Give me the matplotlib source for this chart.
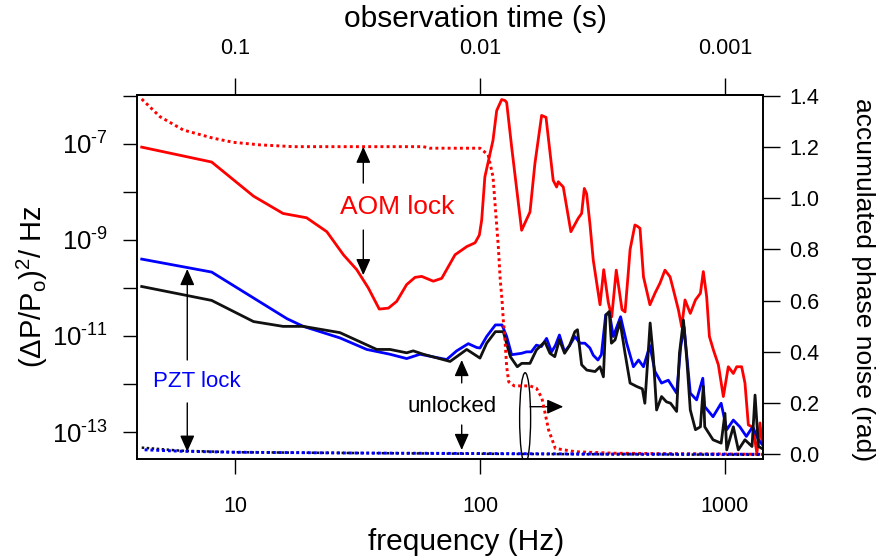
import numpy as np
import matplotlib
matplotlib.use('Agg')
import matplotlib.pyplot as plt
from matplotlib.patches import Ellipse
from matplotlib.ticker import FixedLocator, FuncFormatter, NullLocator

plt.rcParams['font.family'] = ['Liberation Sans', 'DejaVu Sans']
plt.rcParams['mathtext.fontset'] = 'custom'
plt.rcParams['mathtext.rm'] = 'Liberation Sans'
plt.rcParams['mathtext.it'] = 'Liberation Sans:italic'

# AOM lock, power noise spectrum (log10 of (dP/P)^2/Hz)
aom_f = [4.16, 8.03, 11.9, 15.7, 19.6, 23.7, 27.7, 31.4, 35.0, 38.8, 42.3, 45.7, 50.2,
         54.3, 57.8, 64.5, 69.8, 79.1, 88.3, 95.5, 99.4, 101.6, 104.7, 113, 117, 122.6,
         126.5, 128.5, 134.7, 147.9, 160, 167.6, 178.5, 186, 199, 205.5, 208.7, 218.8,
         225.8, 235, 251.8, 260, 266.6, 272.5, 281, 290, 309, 320, 334, 345, 360, 380,
         391, 403, 410, 429, 440, 450, 465, 494, 518, 543, 569, 597, 616, 646, 666, 687,
         722, 758, 794, 816, 842, 864, 897, 940, 985, 1032, 1082, 1117, 1170, 1207, 1246,
         1300, 1350, 1390, 1415]
aom_psd_log = [-7.07, -7.38, -8.09, -8.45, -8.54, -8.83, -9.31, -9.62, -10.0, -10.44,
               -10.42, -10.28, -9.93, -9.78, -9.76, -9.86, -9.80, -9.31, -9.14, -9.06,
               -8.90, -8.59, -7.69, -6.93, -6.31, -6.08, -6.10, -6.14, -7.07, -8.80, -8.42,
               -7.41, -6.41, -6.45, -7.76, -7.90, -7.79, -7.90, -8.31, -8.83, -8.55, -8.45,
               -7.93, -8.04, -8.66, -9.42, -10.35, -9.62, -10.30, -10.60, -9.63, -10.45,
               -10.50, -9.69, -9.20, -8.69, -8.72, -8.76, -9.77, -10.35, -10.11, -9.90,
               -9.63, -9.77, -10.04, -10.46, -10.81, -10.25, -10.53, -10.25, -10.11, -9.66,
               -10.18, -11.01, -11.29, -11.6, -12.26, -11.64, -11.78, -11.64, -11.64, -11.98,
               -12.85, -12.9, -13.44, -12.81, -13.2]

# AOM lock, accumulated phase noise (rad)
aom_acc_f = [4.16, 4.94, 6.15, 8.15, 9.84, 12.65, 17.3, 58.7, 62.5, 100, 108, 113, 118.8,
             121, 123, 124.5, 126, 128.5, 131, 138, 160, 170, 179, 190.6, 203, 245, 357, 1415]
aom_acc = [1.387, 1.318, 1.266, 1.234, 1.218, 1.208, 1.201, 1.201, 1.195, 1.195, 1.169,
           1.084, 0.811, 0.68, 0.603, 0.524, 0.472, 0.342, 0.283, 0.267, 0.267, 0.258,
           0.219, 0.095, 0.023, 0.010, 0.004, 0.0]

# PZT lock, power noise spectrum
pzt_f = [4.16, 8.03, 16.3, 19.0, 26.8, 34.5, 42.9, 50.2, 56.9, 73.1, 80.3, 89.6, 97, 100,
         106.5, 115.6, 123, 128.5, 134.7, 147.9, 155, 162, 170, 178, 187, 196, 203, 211,
         221.5, 232, 244, 256, 268, 281, 290, 303, 313, 326, 338, 350, 375, 397, 423, 444,
         465, 494, 518, 551, 587, 635, 660, 681, 722, 766, 812, 827, 894, 965, 1017, 1082,
         1150, 1223, 1298, 1370, 1415]
pzt_psd_log = [-9.40, -9.67, -10.64, -10.80, -11.04, -11.28, -11.38, -11.47, -11.38,
               -11.49, -11.31, -11.16, -11.24, -11.25, -11.01, -10.77, -10.77, -11.01,
               -11.39, -11.36, -11.33, -11.33, -11.19, -11.22, -11.05, -11.33, -11.20,
               -10.98, -11.33, -11.20, -11.01, -11.15, -11.15, -11.25, -11.40, -11.50,
               -11.39, -10.56, -10.53, -11.01, -10.60, -11.15, -11.64, -11.50, -11.64,
               -11.20, -11.74, -11.98, -11.92, -12.19, -11.22, -10.81, -12.19, -12.33,
               -11.88, -12.47, -12.68, -12.40, -12.95, -12.75, -12.89, -13.09, -12.89,
               -13.16, -13.25]

# unlocked, power noise spectrum
free_f = [4.16, 8.03, 11.9, 15.7, 19.0, 26.8, 37.9, 42.9, 50.2, 53.4, 58.7, 75.5, 88.3,
          100, 106.5, 115.6, 124.5, 133, 142, 148, 160, 170, 184, 193, 202, 211, 221.5,
          232, 244, 250, 260, 273, 295, 309, 319, 327, 337, 344, 356, 373, 391, 410, 436,
          460, 471, 485, 495, 510, 526, 551, 577, 600, 635, 652, 677, 699, 722, 758, 794,
          816, 827, 894, 965, 1000, 1017, 1082, 1134, 1207, 1290, 1327, 1370, 1415]
free_psd_log = [-9.97, -10.26, -10.70, -10.80, -10.80, -10.93, -11.28, -11.28, -11.35,
                -11.31, -11.38, -11.53, -11.28, -11.46, -11.15, -10.91, -10.91, -11.43,
                -11.64, -11.57, -11.57, -11.29, -11.12, -11.36, -11.43, -11.08, -11.36,
                -11.20, -10.91, -10.87, -11.60, -11.71, -11.74, -11.64, -11.85, -10.56,
                -10.49, -11.15, -11.08, -10.70, -11.36, -11.98, -12.05, -12.10, -12.40,
                -11.43, -10.73, -11.43, -12.54, -12.26, -12.37, -12.40, -12.57, -11.36,
                -10.67, -11.50, -12.54, -12.95, -12.89, -12.05, -12.89, -13.16, -13.23,
                -12.61, -13.37, -12.89, -13.37, -13.16, -13.30, -12.23, -13.30, -13.34]

# accumulated phase noise for PZT lock and unlocked (both near zero)
low_acc_f = [4.16, 6.0, 10, 30, 100, 300, 1415]
pzt_acc = [0.018, 0.012, 0.008, 0.005, 0.003, 0.001, 0.0]
free_acc = [0.026, 0.014, 0.008, 0.005, 0.002, 0.0, -0.002]

left_decades = [-13, -12, -11, -10, -9, -8, -7, -6]
right_ticks = [0.0, 0.2, 0.4, 0.6, 0.8, 1.0, 1.2, 1.4]
freq_ticks = [10, 100, 1000]
time_labels = ['0.1', '0.01', '0.001']

fig = plt.figure(figsize=(8.84, 5.59), dpi=100)
W, H = 884, 559
x0, x1, y0, y1 = 137, 763, 95, 459
ax = fig.add_axes([x0 / W, 1 - y1 / H, (x1 - x0) / W, (y1 - y0) / H])
ax.set_xscale('log')
ax.set_yscale('log')

ax.plot(aom_f, 10.0 ** np.array(aom_psd_log), color='#ff0000', lw=2.0, zorder=3)
ax.plot(pzt_f, 10.0 ** np.array(pzt_psd_log), color='#0000ff', lw=2.0, zorder=4)
ax.plot(free_f, 10.0 ** np.array(free_psd_log), color='#111111', lw=2.0, zorder=5)

ax.set_xlim(3.98, 1430)
ax.set_ylim(10 ** -13.56, 10 ** -5.985)
ax.yaxis.set_major_locator(FixedLocator([10.0 ** d for d in left_decades]))
ax.yaxis.set_minor_locator(NullLocator())
ax.yaxis.set_major_formatter(FuncFormatter(
    lambda v, p: '$10^{\\text{-}%d}$' % -round(np.log10(v)) if round(np.log10(v)) % 2 else ''))
ax.xaxis.set_major_locator(FixedLocator(freq_ticks))
ax.xaxis.set_minor_locator(NullLocator())
ax.xaxis.set_major_formatter(FuncFormatter(lambda v, p: '%d' % v))
ax.tick_params(axis='x', direction='out', length=11, width=1, pad=16, labelsize=15.5)
ax.tick_params(axis='y', direction='out', length=10, width=1, pad=11, labelsize=18.5)

ax2 = ax.twinx()
ax2.plot(aom_acc_f, aom_acc, color='#ff0000', lw=2.1, ls=(0, (1, 1.1)), zorder=3)
ax2.plot(low_acc_f, free_acc, color='#111111', lw=1.8, ls=(0, (1, 1)), zorder=3)
ax2.plot(low_acc_f, pzt_acc, color='#0000ff', lw=2.1, ls=(1, (1, 1)), zorder=4)
ax2.set_ylim(-0.0184, 1.4027)
ax2.set_yticks(right_ticks)
ax2.yaxis.set_major_formatter(FuncFormatter(lambda v, p: '%.1f' % v))
ax2.tick_params(axis='y', direction='out', length=12, width=1, pad=7, labelsize=15.5)

top = ax.secondary_xaxis('top')
top.set_xticks(freq_ticks, labels=time_labels)
top.xaxis.set_minor_locator(NullLocator())
top.tick_params(axis='x', direction='out', length=12, width=1, pad=14, labelsize=15.5)

for a in (ax, ax2, top):
    for s in a.spines.values():
        s.set_linewidth(1.2)

# axis titles
ax.set_xlabel('frequency (Hz)', fontsize=21.5)
ax.xaxis.set_label_coords((466 - x0) / (x1 - x0), (y1 - 542) / (y1 - y0))
ax.xaxis.label.set_va('center')
ax.text((475 - x0) / (x1 - x0), (y1 - 18.5) / (y1 - y0), 'observation time (s)',
        transform=ax.transAxes, fontsize=21.5, ha='center', va='center')
ax.set_ylabel('(ΔP/P$_\\mathrm{o}$)$^2$/ Hz', fontsize=21)
ax.yaxis.set_label_coords((32 - x0) / (x1 - x0), (y1 - 287) / (y1 - y0))
ax.yaxis.label.set_va('center')
ax2.set_ylabel('accumulated phase noise (rad)', fontsize=19, rotation=270)
ax2.yaxis.set_label_coords((863 - x0) / (x1 - x0), (y1 - 280) / (y1 - y0))
ax2.yaxis.label.set_va('center')


def arrow(xf, y_from, y_to):
    ax.annotate('', xy=(xf, y_to), xytext=(xf, y_from), xycoords='axes fraction',
                arrowprops=dict(arrowstyle='-|>,head_length=0.9,head_width=0.4',
                                mutation_scale=11, lw=1, color='k',
                                shrinkA=0, shrinkB=0), zorder=6)


# AOM lock
arrow(0.3615, 0.758, 0.858)
arrow(0.3615, 0.629, 0.505)
ax.text(0.4153, 0.692, 'AOM lock', transform=ax.transAxes, color='#ff0000',
        fontsize=19, ha='center', va='center')
# PZT lock
arrow(0.0803, 0.272, 0.522)
arrow(0.0803, 0.154, 0.020)
ax.text(0.0958, 0.212, 'PZT lock', transform=ax.transAxes, color='#0000ff',
        fontsize=16, ha='center', va='center')
# unlocked
arrow(0.5187, 0.209, 0.272)
arrow(0.5187, 0.0934, 0.0247)
ax.text(0.503, 0.1456, 'unlocked', transform=ax.transAxes, color='k',
        fontsize=16, ha='center', va='center')

ax.add_patch(Ellipse((0.620, 0.112), 11 / (x1 - x0), 91 / (y1 - y0),
                     transform=ax.transAxes, fill=False, lw=1, ec='k', zorder=6))
ax.annotate('', xy=(0.681, 0.1437), xytext=(0.628, 0.1437), xycoords='axes fraction',
            arrowprops=dict(arrowstyle='-|>,head_length=0.9,head_width=0.4',
                            mutation_scale=11, lw=1, color='k', shrinkA=0, shrinkB=0))

fig.savefig('out.png', dpi=100)
